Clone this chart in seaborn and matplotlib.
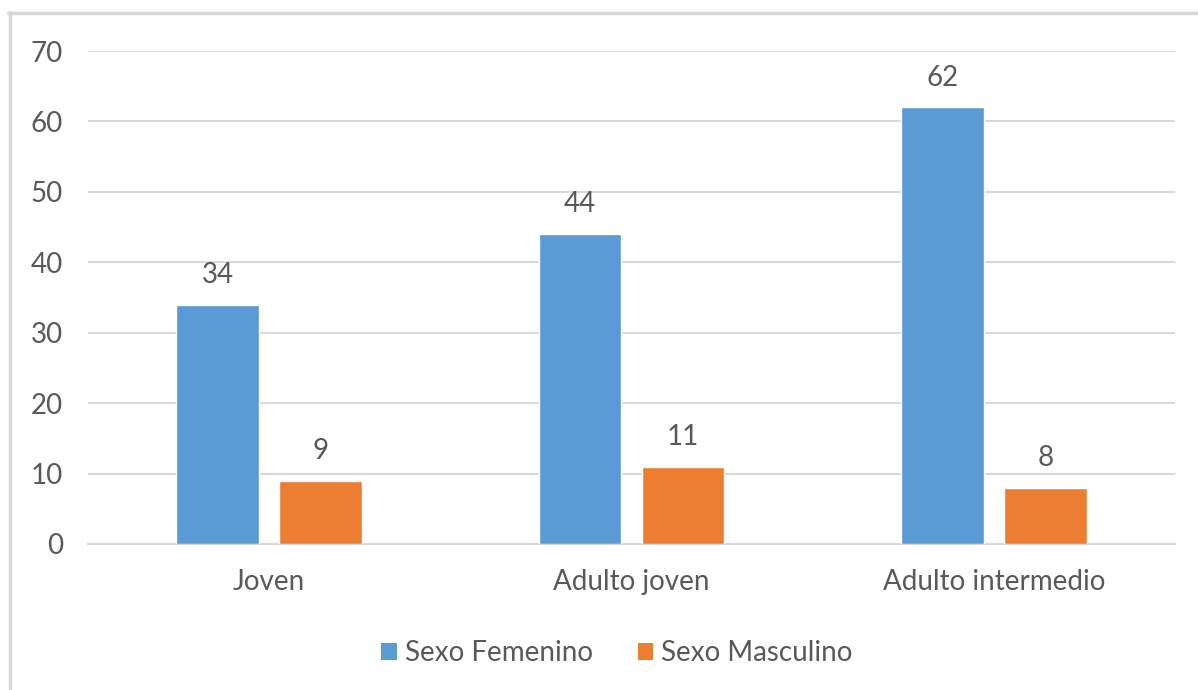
import matplotlib
matplotlib.use("Agg")
import matplotlib.pyplot as plt
from matplotlib.lines import Line2D
from matplotlib.patches import Patch
import seaborn as sns
import pandas as pd

categories = ["Joven", "Adulto joven", "Adulto intermedio"]
series_names = ["Sexo Femenino", "Sexo Masculino"]
femenino = [34, 44, 62]
masculino = [9, 11, 8]
y_ticks = [0, 10, 20, 30, 40, 50, 60, 70]

colors = ["#5B9BD5", "#ED7D31"]
text_color = "#595959"
grid_color = "#D9D9D9"

df = pd.DataFrame({
    "grupo": categories * 2,
    "sexo": [series_names[0]] * 3 + [series_names[1]] * 3,
    "valor": femenino + masculino,
})

sns.set_theme(style="white")
plt.rcParams["font.family"] = ["Lato", "DejaVu Sans"]

fig = plt.figure(figsize=(11.98, 6.90), dpi=100)
ax = fig.add_axes([88 / 1198, 1 - 544 / 690, (1175 - 88) / 1198, (544 - 51) / 690])

sns.barplot(data=df, x="grupo", y="valor", hue="sexo", order=categories,
            hue_order=series_names, palette=colors, width=0.57, gap=0.2,
            saturation=1, ax=ax, legend=False, zorder=3)

for container in ax.containers:
    ax.bar_label(container, fmt="%d", padding=12, fontsize=20, color=text_color)

ax.set_ylim(0, 70)
ax.set_xlim(-0.5, 2.5)
ax.set_yticks(y_ticks)
ax.yaxis.grid(True, color=grid_color, linewidth=1.5, zorder=0)
ax.set_axisbelow(True)
for side in ["top", "right", "left"]:
    ax.spines[side].set_visible(False)
ax.spines["bottom"].set_color(grid_color)
ax.spines["bottom"].set_linewidth(1.5)
ax.tick_params(axis="y", length=0, pad=18, labelsize=20, labelcolor=text_color)
ax.tick_params(axis="x", length=0, pad=18, labelsize=20, labelcolor=text_color)
ax.set_xlabel("")
ax.set_ylabel("")

handles = [Patch(facecolor=c, edgecolor="none") for c in colors]
fig.legend(handles, series_names, loc="center", bbox_to_anchor=(617 / 1198, 1 - 653 / 690),
           ncol=2, frameon=False, fontsize=20, labelcolor=text_color,
           handlelength=0.55, handleheight=0.55, handletextpad=0.3,
           columnspacing=1.6)

# chart-area frame (top and left edges)
fig.add_artist(Line2D([8 / 1198, 1.0], [1 - 13 / 690] * 2, color=grid_color,
                      linewidth=2.5, transform=fig.transFigure))
fig.add_artist(Line2D([9.5 / 1198] * 2, [0.0, 1 - 12 / 690], color=grid_color,
                      linewidth=2.5, transform=fig.transFigure))

fig.savefig("out.png", dpi=100, facecolor="white")
